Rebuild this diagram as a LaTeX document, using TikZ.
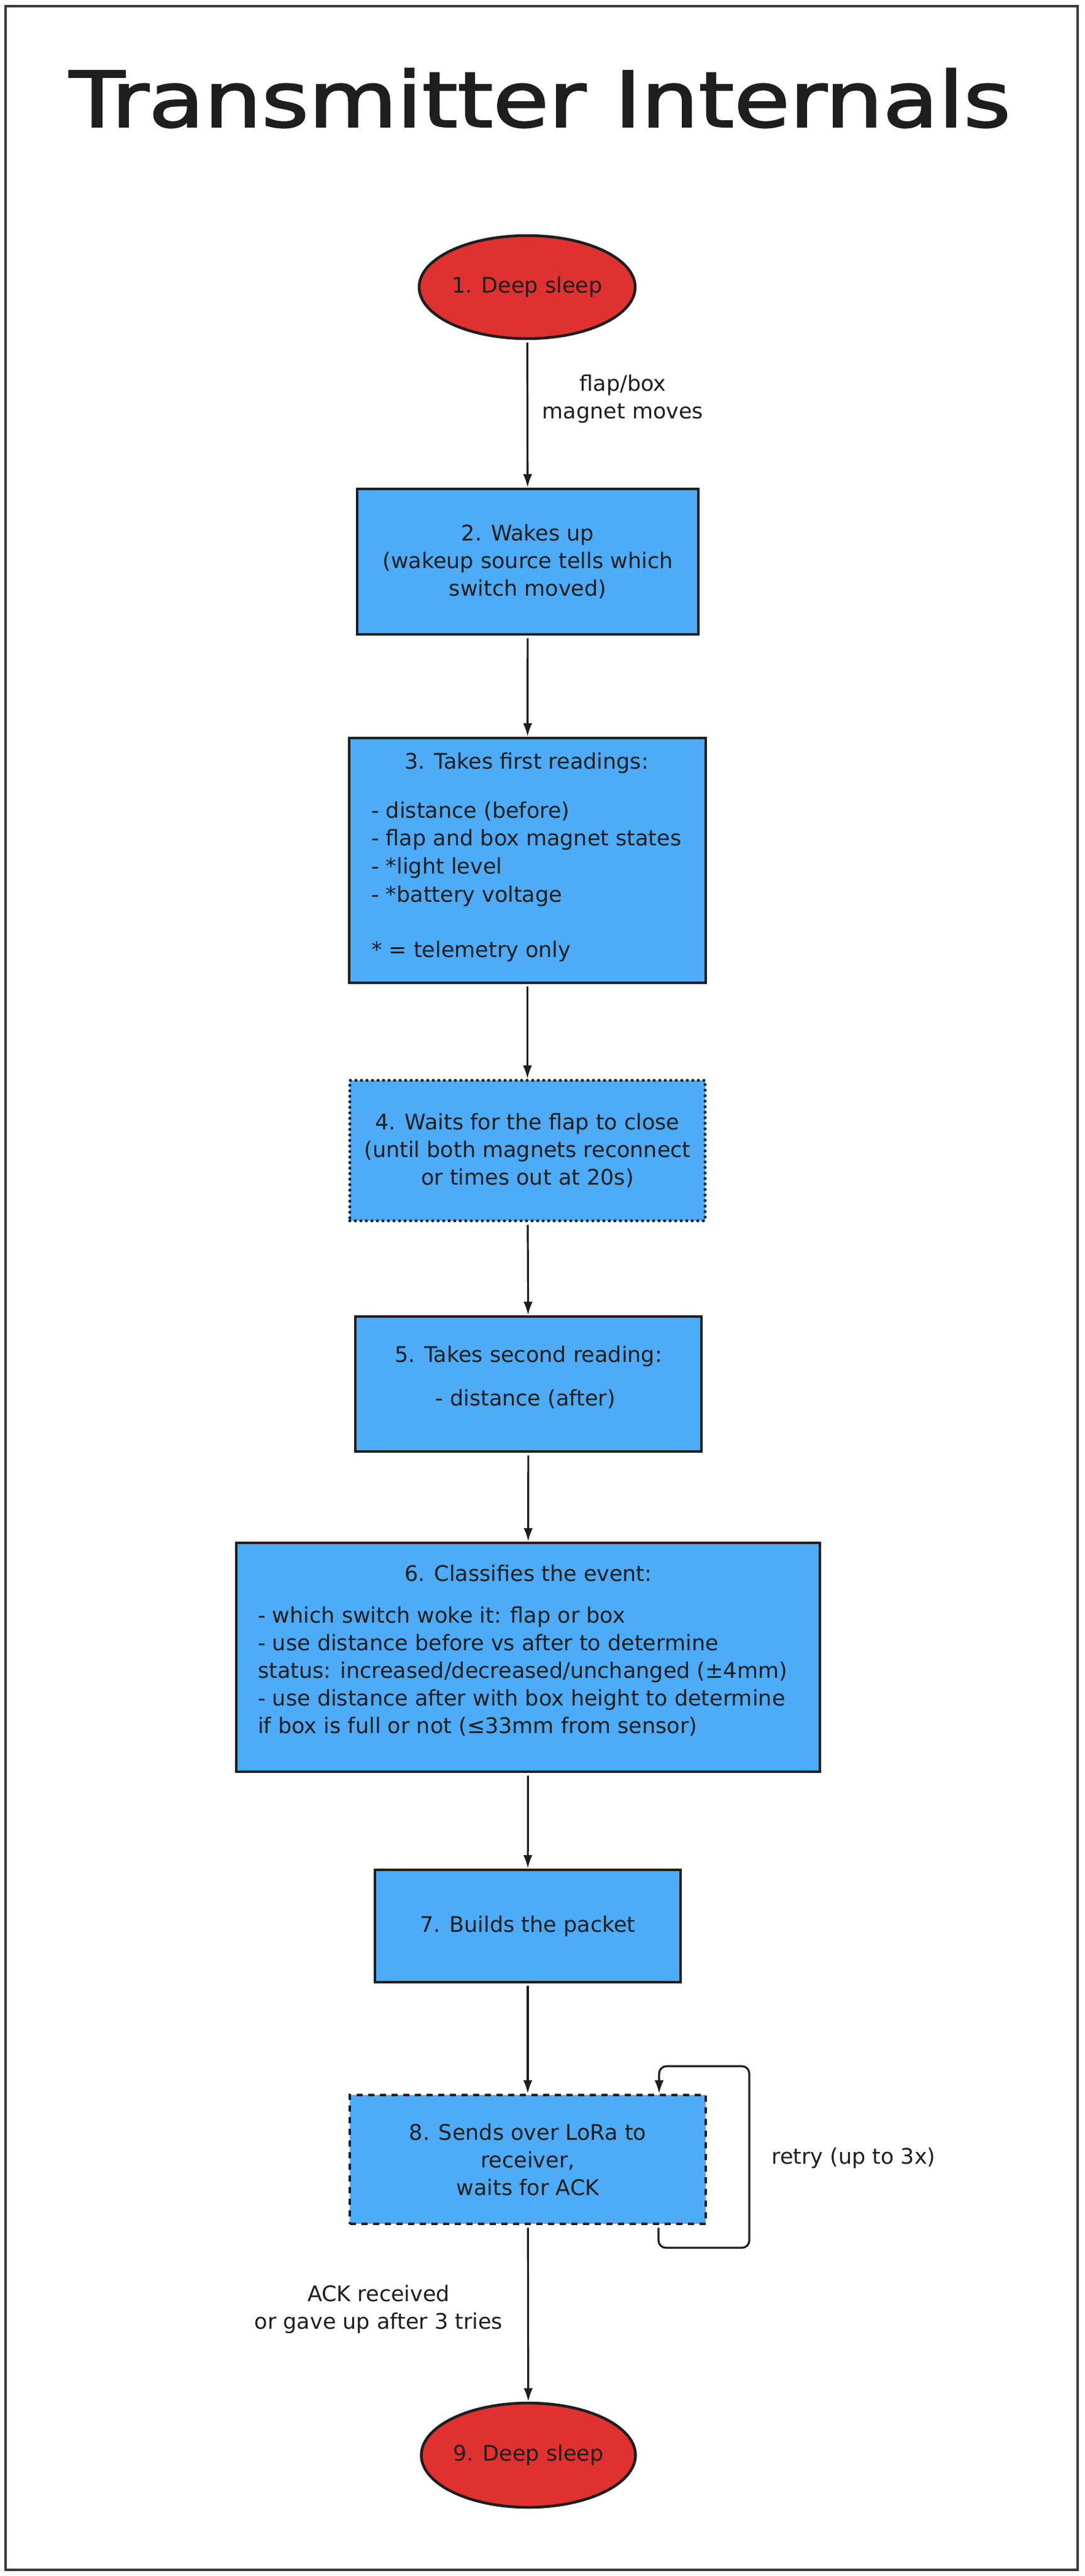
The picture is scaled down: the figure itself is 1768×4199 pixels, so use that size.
\documentclass[tikz,border=0pt]{standalone}
\usepackage{fontspec}
\setmainfont{DejaVu Sans}
\newfontfamily\titlefont[FakeBold=2]{DejaVu Sans}
\usetikzlibrary{shapes.geometric,arrows.meta}
\definecolor{strokec}{HTML}{1E1E1E}
\definecolor{framec}{HTML}{343A40}
\definecolor{blueF}{HTML}{4DABF7}
\definecolor{redF}{HTML}{E03131}
\newcommand{\bodyfont}{\fontsize{35}{45}\selectfont}
\begin{document}
\begin{tikzpicture}[x=1pt,y=-1pt,
  every node/.style={text=strokec},
  frame/.style={draw=framec, line width=4.5pt, rectangle, inner sep=0pt},
  procbox/.style={draw=strokec, line width=4.5pt, fill=blueF, rectangle, inner sep=0pt, font=\bodyfont, align=center},
  sleepnode/.style={draw=strokec, line width=4.5pt, fill=redF, ellipse, inner sep=0pt, font=\bodyfont},
  dottedbox/.style={procbox, dash pattern=on 0pt off 9pt, line cap=round, line width=5pt},
  dashedbox/.style={procbox, dash pattern=on 10pt off 9pt},
  txt/.style={font=\bodyfont, inner sep=0pt},
  lbl/.style={font=\bodyfont, align=center, inner sep=0pt},
  arr/.style={draw=strokec, line width=3.2pt, -{Latex[length=22pt,width=15pt]}, shorten <=4pt}
]
\useasboundingbox (0,0) rectangle (1768,4199);
\node[frame, minimum width=1747pt, minimum height=4179pt] (frame) at (882.5,2099.5) {};

\node[font=\titlefont\fontsize{125}{140}\selectfont, inner sep=0pt] (title) at (880,160) {\scalebox{1.18}[1]{Transmitter Internals}};

% nodes
\node[sleepnode, minimum width=352pt, minimum height=168pt] (e1) at (859,468) {1. Deep sleep};
\node[procbox, minimum width=556pt, minimum height=237pt] (b2) at (860,915.5) {2. Wakes up\\(wakeup source tells which\\switch moved)};
\node[procbox, minimum width=581pt, minimum height=399pt] (b3) at (859.5,1402.5) {};
\node[dottedbox, minimum width=579pt, minimum height=229pt] (b4) at (859.5,1875.5) {4. Waits for the flap to close\\(until both magnets reconnect\\or times out at 20s)};
\node[procbox, minimum width=564pt, minimum height=220pt] (b5) at (861,2256) {};
\node[procbox, minimum width=951pt, minimum height=373pt] (b6) at (860.5,2701.5) {};
\node[procbox, minimum width=498pt, minimum height=183pt] (b7) at (860,3139.5) {7. Builds the packet};
\node[dashedbox, minimum width=580pt, minimum height=210pt] (b8) at (860,3520) {8. Sends over LoRa to\\receiver,\\waits for ACK};
\node[sleepnode, minimum width=349pt, minimum height=170pt] (e9) at (861,4002) {9. Deep sleep};

% box 3 text
\node[txt, anchor=base] (t3) at (858,1253) {3. Takes first readings:};
\node[txt, anchor=base west] (t3a) at (605,1333) {- distance (before)};
\node[txt, anchor=base west] (t3b) at (605,1378) {- flap and box magnet states};
\node[txt, anchor=base west] (t3c) at (605,1424) {- *light level};
\node[txt, anchor=base west] (t3d) at (605,1470) {- *battery voltage};
\node[txt, anchor=base west] (t3e) at (605,1560) {* = telemetry only};

% box 5 text
\node[txt, anchor=base] (t5) at (861,2220) {5. Takes second reading:};
\node[txt, anchor=base] (t5a) at (856,2291) {- distance (after)};

% box 6 text
\node[txt, anchor=base] (t6) at (861,2577) {6. Classifies the event:};
\node[txt, anchor=base west] (t6a) at (420,2645) {- which switch woke it: flap or box};
\node[txt, anchor=base west] (t6b) at (420,2690) {- use distance before vs after to determine};
\node[txt, anchor=base west] (t6c) at (420,2735) {status: increased/decreased/unchanged (±4mm)};
\node[txt, anchor=base west] (t6d) at (420,2780) {- use distance after with box height to determine};
\node[txt, anchor=base west] (t6e) at (420,2825) {if box is full or not (≤33mm from sensor)};

% connectors
\draw[arr] (e1) -- (b2);
\draw[arr] (b2) -- (b3);
\draw[arr] (b3) -- (b4);
\draw[arr] (b4) -- (b5);
\draw[arr] (b5) -- (b6);
\draw[arr] (b6) -- (b7);
\draw[arr] (b7) -- (b8);
\draw[arr] (b8) -- (e9);

% retry loop
\coordinate (r1) at (1073,3664);
\coordinate (r2) at (1221,3664);
\coordinate (r3) at (1221,3368);
\coordinate (r4) at (1074,3368);
\draw[arr, rounded corners=12pt] (b8.south -| r1) -- (r1) -- (r2) -- (r3) -- (r4) -- (b8.north -| r4);

% labels
\node[lbl] (l1) at (1015,650) {flap/box\\magnet moves};
\node[txt, anchor=base] (l2) at (1391,3527) {retry (up to 3x)};
\node[lbl] (l3) at (617,3764) {ACK received\\or gave up after 3 tries};
\end{tikzpicture}
\end{document}
